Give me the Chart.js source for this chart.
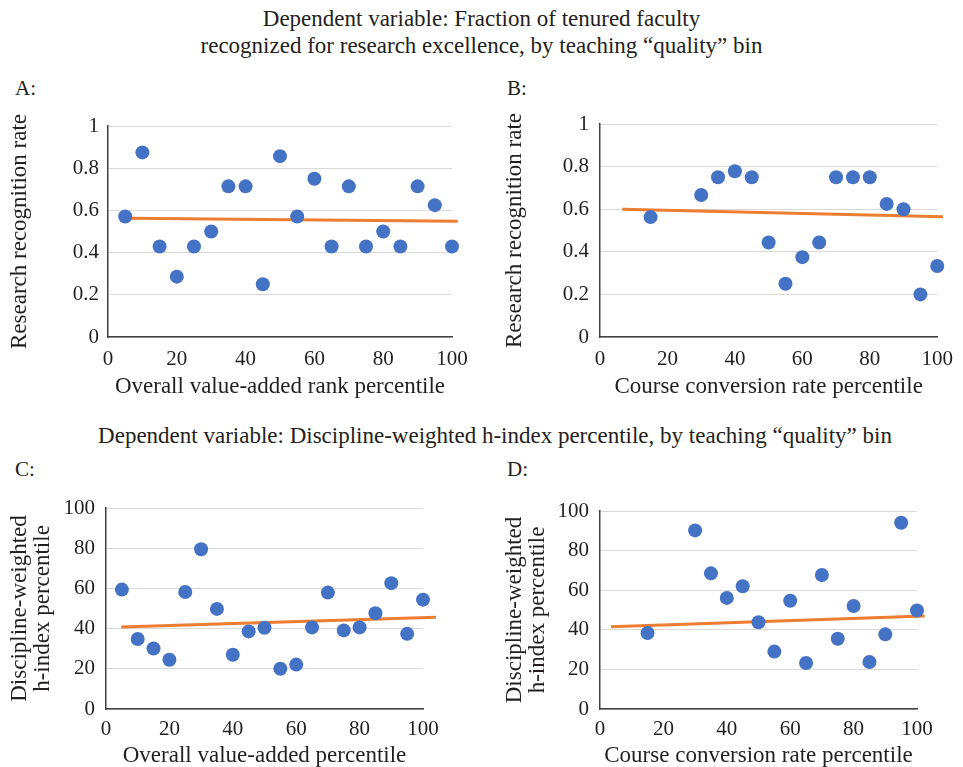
<!DOCTYPE html>
<html>
<head>
<meta charset="utf-8">
<script src="https://cdn.jsdelivr.net/npm/chart.js@4.4.1/dist/chart.umd.min.js"></script>
<style>
  html, body { margin: 0; padding: 0; background: #ffffff; overflow: hidden; }
  body { width: 963px; height: 767px; position: relative; font-family: 'Liberation Serif', 'Times New Roman', serif; color: #231f20; }
  .txt { position: absolute; white-space: nowrap; }
  .ttl { font-size: 23px; line-height: 23px; }
  .lbl { font-size: 21px; line-height: 21px; }
  .ctr { text-align: center; }
  canvas { position: absolute; }
</style>
</head>
<body>
<div class="txt ttl ctr" style="left:0; width:963px; top:7px;">Dependent variable: Fraction of tenured faculty</div>
<div class="txt ttl ctr" style="left:0; width:963px; top:34px;">recognized for research excellence, by teaching “quality” bin</div>
<div class="txt lbl" style="left:15px; top:78px;">A:</div>
<div class="txt lbl" style="left:507px; top:78px;">B:</div>
<div class="txt ttl ctr" style="left:0; width:990px; top:424px;">Dependent variable: Discipline-weighted h-index percentile, by teaching “quality” bin</div>
<div class="txt lbl" style="left:15px; top:459px;">C:</div>
<div class="txt lbl" style="left:507px; top:459px;">D:</div>

<canvas id="cA" width="480" height="310" style="left:0px; top:100px;"></canvas>
<canvas id="cB" width="473" height="310" style="left:490px; top:100px;"></canvas>
<canvas id="cC" width="480" height="287" style="left:0px; top:480px;"></canvas>
<canvas id="cD" width="473" height="287" style="left:490px; top:480px;"></canvas>

<script>
// ---------- Data ----------
const xTickLabels = ['0', '20', '40', '60', '80', '100'];
const yTickLabelsAB = ['0', '0.2', '0.4', '0.6', '0.8', '1'];
const yTickLabelsCD = ['0', '20', '40', '60', '80', '100'];

// Panel A: Overall value-added rank percentile vs research recognition rate
const xA = [5, 10, 15, 20, 25, 30, 35, 40, 45, 50, 55, 60, 65, 70, 75, 80, 85, 90, 95, 100];
const yA = [0.571, 0.875, 0.429, 0.286, 0.429, 0.5, 0.714, 0.714, 0.25, 0.857, 0.571, 0.75, 0.429, 0.714, 0.429, 0.5, 0.429, 0.714, 0.625, 0.429];
const trendAx = [6.2, 101.7];
const trendAy = [0.563, 0.549];

// Panel B: Course conversion rate percentile vs research recognition rate
const xB = [15, 30, 35, 40, 45, 50, 55, 60, 65, 70, 75, 80, 85, 90, 95, 100];
const yB = [0.563, 0.667, 0.75, 0.778, 0.75, 0.444, 0.25, 0.375, 0.444, 0.75, 0.75, 0.75, 0.625, 0.6, 0.2, 0.333];
const trendBx = [6.6, 101.7];
const trendBy = [0.6, 0.564];

// Panel C: Overall value-added percentile vs discipline-weighted h-index percentile
const xC = [5, 10, 15, 20, 25, 30, 35, 40, 45, 50, 55, 60, 65, 70, 75, 80, 85, 90, 95, 100];
const yC = [59.4, 34.8, 30.1, 24.5, 58.2, 79.5, 49.8, 27.0, 38.6, 40.4, 20.0, 22.1, 40.6, 57.9, 39.1, 40.6, 47.6, 62.6, 37.4, 54.4];
const trendCx = [4.8, 104.1];
const trendCy = [40.8, 45.6];

// Panel D: Course conversion rate percentile vs discipline-weighted h-index percentile
const xD = [15, 30, 35, 40, 45, 50, 55, 60, 65, 70, 75, 80, 85, 90, 95, 100];
const yD = [38.4, 90.2, 68.5, 56.1, 62.0, 43.8, 29.0, 54.7, 23.2, 67.7, 35.5, 52.0, 23.7, 37.7, 94.1, 49.8];
const trendDx = [3.5, 102.4];
const trendDy = [41.6, 47.0];

// ---------- Rendering ----------
const FONT = "'Liberation Serif', 'Times New Roman', serif";
const TEXT = '#231f20';
const BLUE = '#4472C4';
const ORANGE = '#ED7D31';

function pairs(xs, ys) { return xs.map((x, i) => ({ x: x, y: ys[i] })); }

function makePanel(id, xs, ys, tx, ty, cfg) {
  new Chart(document.getElementById(id), {
    type: 'scatter',
    data: {
      datasets: [
        {
          data: pairs(xs, ys),
          backgroundColor: BLUE,
          borderWidth: 0,
          pointRadius: 7,
          pointHoverRadius: 7,
          clip: false,
          order: 1
        },
        {
          type: 'line',
          data: pairs(tx, ty),
          borderColor: ORANGE,
          borderWidth: 3,
          pointRadius: 0,
          fill: false,
          clip: false,
          order: 2
        }
      ]
    },
    options: {
      responsive: false,
      animation: false,
      devicePixelRatio: 1,
      events: [],
      layout: { padding: { top: cfg.padTop, right: cfg.padRight, left: 0, bottom: 0 } },
      plugins: { legend: { display: false }, tooltip: { enabled: false }, title: { display: false } },
      scales: {
        x: {
          type: 'linear',
          min: 0, max: 100,
          afterFit: (s) => { s.height = cfg.xHeight; },
          grid: { display: false, drawTicks: false },
          border: { display: true, color: '#404040', width: 1.5 },
          ticks: {
            stepSize: 20,
            padding: cfg.xTickPad,
            color: TEXT,
            font: { family: FONT, size: 21 },
            maxRotation: 0,
            callback: (v, i) => xTickLabels[i]
          },
          title: {
            display: true,
            text: cfg.xTitle,
            color: TEXT,
            font: { family: FONT, size: 23, lineHeight: 1.0 },
            padding: { top: 0, bottom: cfg.xTitlePad }
          }
        },
        y: {
          type: 'linear',
          min: 0, max: cfg.yMax,
          afterFit: (s) => { s.width = cfg.yWidth; },
          grid: { display: true, color: '#d9d9d9', lineWidth: 1, drawTicks: false },
          border: { display: true, color: '#404040', width: 1.5 },
          ticks: {
            stepSize: cfg.yStep,
            padding: cfg.yTickPad,
            color: TEXT,
            font: { family: FONT, size: 21 },
            callback: (v, i) => cfg.yLabels[i]
          },
          title: {
            display: true,
            text: cfg.yTitle,
            color: TEXT,
            font: { family: FONT, size: 23, lineHeight: 1.0 },
            padding: { top: cfg.yTitlePad, bottom: 0 }
          }
        }
      }
    }
  });
}

makePanel('cA', xA, yA, trendAx, trendAy, {
  padTop: 26, padRight: 28, xHeight: 73, yWidth: 108,
  xTickPad: 10, yTickPad: 9, xTitlePad: 11.5, yTitlePad: 8.5,
  yMax: 1, yStep: 0.2, yLabels: yTickLabelsAB,
  xTitle: 'Overall value-added rank percentile',
  yTitle: 'Research recognition rate'
});
makePanel('cB', xB, yB, trendBx, trendBy, {
  padTop: 24, padRight: 18, xHeight: 73, yWidth: 110,
  xTickPad: 10, yTickPad: 11, xTitlePad: 11.5, yTitlePad: 13.5,
  yMax: 1, yStep: 0.2, yLabels: yTickLabelsAB,
  xTitle: 'Course conversion rate percentile',
  yTitle: 'Research recognition rate'
});
makePanel('cC', xC, yC, trendCx, trendCy, {
  padTop: 28, padRight: 57, xHeight: 58, yWidth: 106,
  xTickPad: 8, yTickPad: 11, xTitlePad: 0, yTitlePad: 8.5,
  yMax: 100, yStep: 20, yLabels: yTickLabelsCD,
  xTitle: 'Overall value-added percentile',
  yTitle: ['Discipline-weighted', 'h-index percentile']
});
makePanel('cD', xD, yD, trendDx, trendDy, {
  padTop: 31, padRight: 46, xHeight: 58, yWidth: 110,
  xTickPad: 8, yTickPad: 11, xTitlePad: 0, yTitlePad: 13.5,
  yMax: 100, yStep: 20, yLabels: yTickLabelsCD,
  xTitle: 'Course conversion rate percentile',
  yTitle: ['Discipline-weighted', 'h-index percentile']
});
</script>
</body>
</html>
